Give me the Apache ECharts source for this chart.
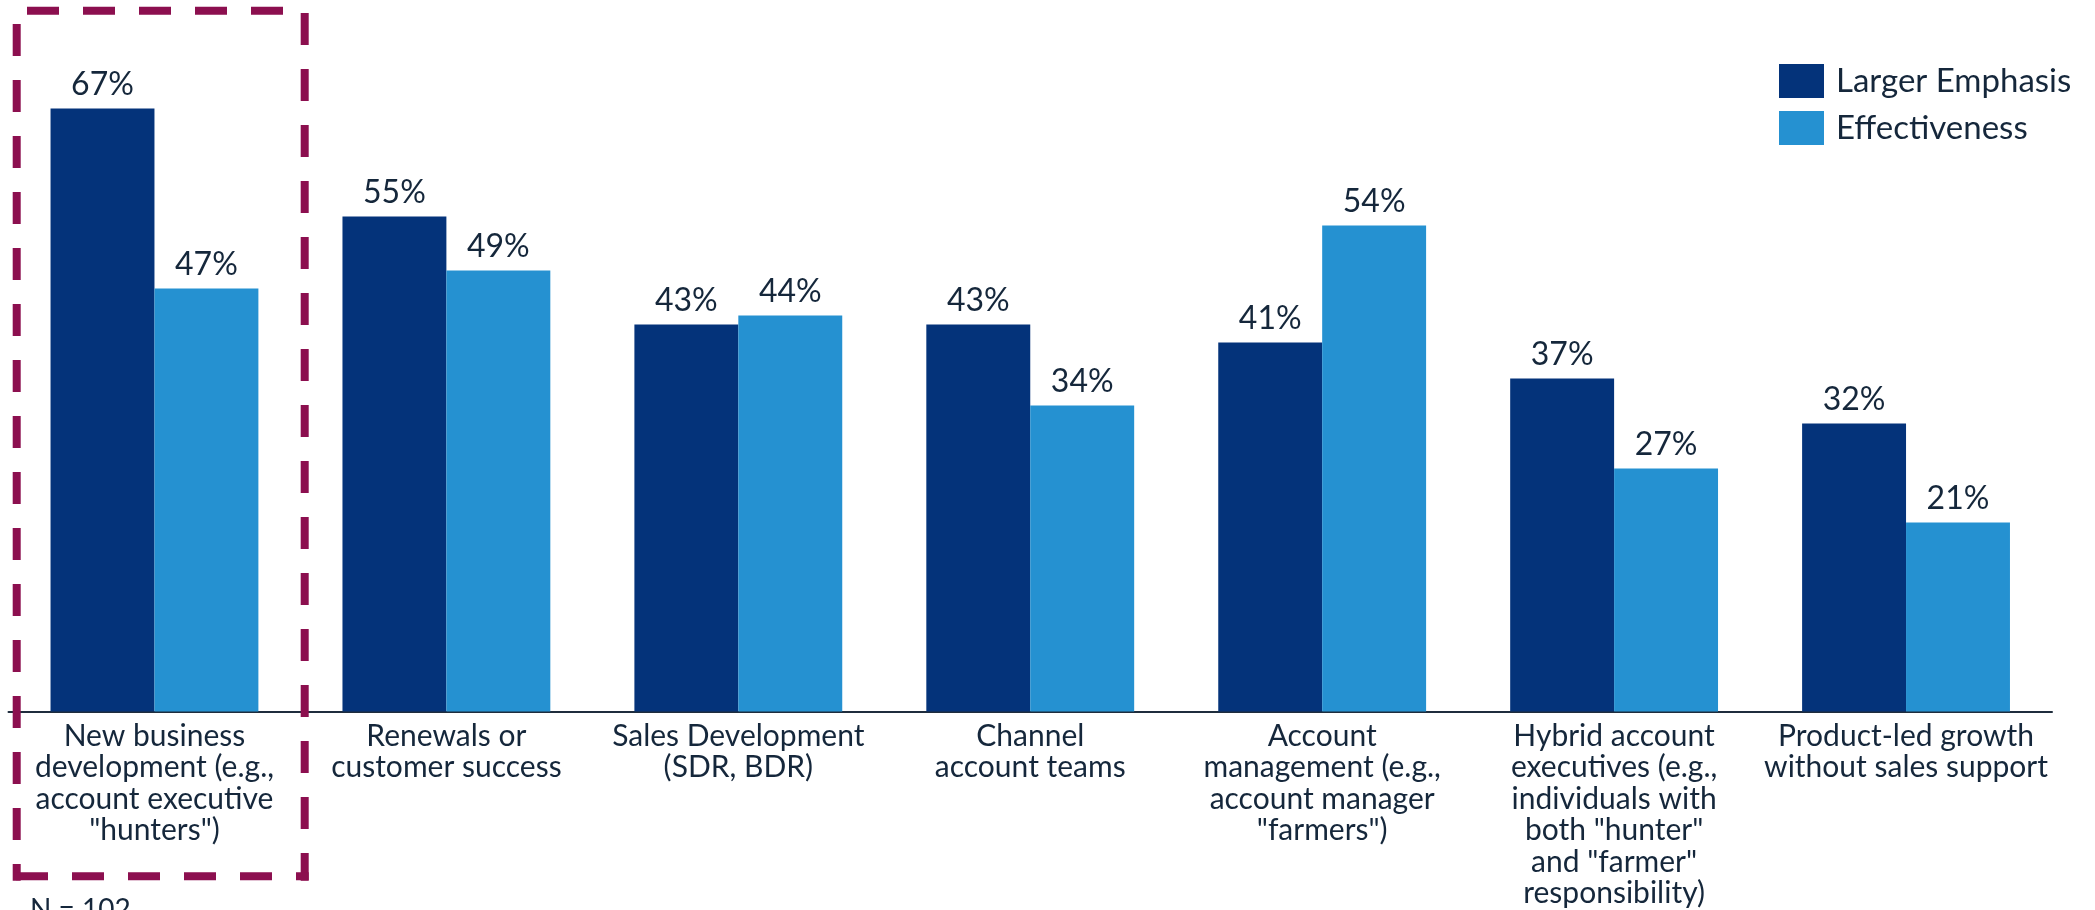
<!DOCTYPE html>
<html>
<head>
<meta charset="utf-8">
<title>Sales roles: emphasis vs effectiveness</title>
<script src="https://cdn.jsdelivr.net/npm/echarts@6/dist/echarts.min.js"></script>
<style>
  html, body { margin: 0; padding: 0; background: #ffffff; }
  #chart { width: 2095px; height: 910px; }
</style>
</head>
<body>
<div id="chart"></div>
<script>
// Sales motions surveyed
const categories = [
  'New business\ndevelopment (e.g.,\naccount executive\n"hunters")',
  'Renewals or\ncustomer success',
  'Sales Development\n(SDR, BDR)',
  'Channel\naccount teams',
  'Account\nmanagement (e.g.,\naccount manager\n"farmers")',
  'Hybrid account\nexecutives (e.g.,\nindividuals with\nboth "hunter"\nand "farmer"\nresponsibility)',
  'Product-led growth\nwithout sales support'
];

// Share of respondents (%)
const largerEmphasis = [67, 55, 43, 43, 41, 37, 32];
const effectiveness = [47, 49, 44, 34, 54, 27, 21];

const seriesNames = ['Larger Emphasis', 'Effectiveness'];
const sampleNote = 'N = 102';

const FONT = 'Lato, "Open Sans", sans-serif';
const TEXT = '#15273b';
const DARK = '#04337a';
const LIGHT = '#2591d1';
const MAROON = '#8c0f4f';

const chart = echarts.init(document.getElementById('chart'), null, { renderer: 'canvas' });

const barLabel = {
  show: true,
  position: 'top',
  distance: 8,
  formatter: '{c}%',
  color: TEXT,
  fontFamily: FONT,
  fontSize: 32
};

// one side of the dashed highlight frame
function dashSide(x1, y1, x2, y2) {
  return {
    type: 'line',
    silent: true,
    z: 10,
    shape: { x1: x1, y1: y1, x2: x2, y2: y2 },
    style: { stroke: MAROON, lineWidth: 8, lineDash: [32, 24], lineCap: 'butt' }
  };
}

chart.setOption({
  animation: false,
  backgroundColor: '#ffffff',
  textStyle: { fontFamily: FONT, color: TEXT },
  grid: { left: 8.5, right: 43, top: 36.5, bottom: 198.5, containLabel: false },
  legend: {
    orient: 'vertical',
    left: 1774,
    top: 59,
    itemWidth: 45,
    itemHeight: 34,
    itemGap: 13,
    icon: 'rect',
    data: seriesNames,
    textStyle: { color: TEXT, fontFamily: FONT, fontSize: 33, padding: [0, 0, 0, 7] }
  },
  xAxis: {
    type: 'category',
    data: categories,
    axisTick: { show: false },
    axisLine: { show: true, lineStyle: { color: '#1f2d3d', width: 2 } },
    axisLabel: {
      interval: 0,
      margin: 9,
      color: TEXT,
      fontFamily: FONT,
      fontSize: 30,
      lineHeight: 31.5,
      align: 'center'
    }
  },
  yAxis: {
    type: 'value',
    min: 0,
    max: 75,
    show: false,
    splitLine: { show: false }
  },
  series: [
    {
      name: seriesNames[0],
      type: 'bar',
      data: largerEmphasis,
      barGap: '0%',
      barCategoryGap: '28.8%',
      itemStyle: { color: DARK },
      label: barLabel
    },
    {
      name: seriesNames[1],
      type: 'bar',
      data: effectiveness,
      itemStyle: { color: LIGHT },
      label: barLabel
    }
  ],
  graphic: [
    // dashed highlight frame around the first category
    dashSide(27, 10.7, 283, 10.7),
    dashSide(304.7, 13, 304.7, 880.7),
    dashSide(16.7, 24, 16.7, 880.7),
    dashSide(16, 876.2, 308.7, 876.2),
    {
      type: 'text',
      left: 30,
      top: 896,
      style: { text: sampleNote, fill: TEXT, fontFamily: FONT, fontSize: 28 }
    }
  ]
});
</script>
</body>
</html>
